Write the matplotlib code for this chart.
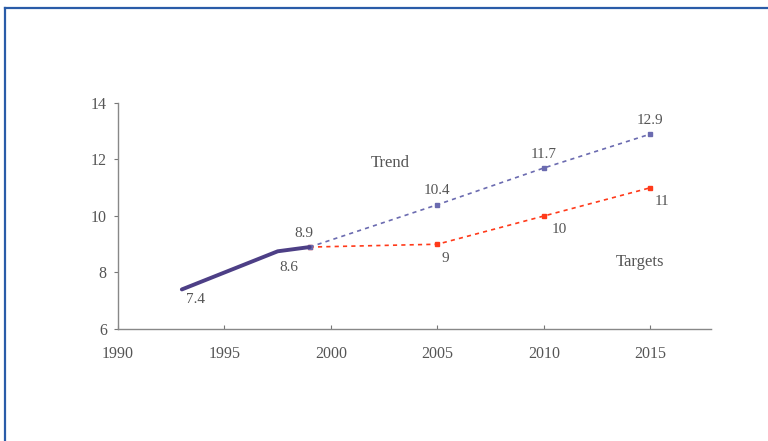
import matplotlib
matplotlib.use("Agg")
import matplotlib.pyplot as plt
from matplotlib.lines import Line2D

plt.rcParams["font.family"] = ["Liberation Serif", "DejaVu Serif"]

hist_years = [1993, 1997.5, 1999]
hist_vals = [7.4, 8.75, 8.9]
hist_labels = ["7.4", "8.6", "8.9"]

trend_years = [1999, 2005, 2010, 2015]
trend_vals = [8.9, 10.4, 11.7, 12.9]
trend_labels = ["", "10.4", "11.7", "12.9"]

target_years = [1999, 2005, 2010, 2015]
target_vals = [8.9, 9.0, 10.0, 11.0]
target_labels = ["", "9", "10", "11"]

xticks = [1990, 1995, 2000, 2005, 2010, 2015]
yticks = [6, 8, 10, 12, 14]

txt = "#555555"

fig = plt.figure(figsize=(7.68, 4.41), dpi=100)
ax = fig.add_axes([0.1536, 0.254, 0.7737, 0.5125])

ax.plot(target_years, target_vals, color="#ff3a1a", lw=1.2, ls=(0, (2.5, 2.5)),
        marker="s", ms=2.2, zorder=2)
ax.plot(trend_years, trend_vals, color="#6b6bb0", lw=1.2, ls=(0, (2.5, 2.5)),
        marker="s", ms=2.2, zorder=2)
ax.plot(hist_years, hist_vals, color="#4d3f86", lw=2.8, solid_capstyle="round", zorder=3)

# value labels (offsets in points)
for x, y, s, off in zip(hist_years, hist_vals, hist_labels, [(10, -7), (8, -12), (-4, 10)]):
    ax.annotate(s, (x, y), xytext=off, textcoords="offset points",
                ha="center", va="center", color=txt, fontsize=11)
for x, y, s in zip(trend_years, trend_vals, trend_labels):
    if s:
        ax.annotate(s, (x, y), xytext=(0, 10), textcoords="offset points",
                    ha="center", va="center", color=txt, fontsize=11)
for x, y, s, off in zip(target_years, target_vals, target_labels,
                        [(0, 0), (6, -10), (11, -10), (8, -10)]):
    if s:
        ax.annotate(s, (x, y), xytext=off, textcoords="offset points",
                    ha="center", va="center", color=txt, fontsize=11)

ax.text(2002.8, 11.88, "Trend", color=txt, fontsize=12, ha="center", va="center")
ax.text(2014.5, 8.37, "Targets", color=txt, fontsize=12, ha="center", va="center")

ax.set_xlim(1990, 2017.9)
ax.set_ylim(6, 14)
ax.set_xticks(xticks)
ax.set_yticks(yticks)
ax.tick_params(colors="#777777", labelcolor=txt, labelsize=11.5, length=3, width=0.8)
ax.tick_params(axis="x", direction="in", pad=12)
ax.tick_params(axis="y", pad=5)
for side in ["top", "right"]:
    ax.spines[side].set_visible(False)
for side in ["left", "bottom"]:
    ax.spines[side].set_color("#888888")
    ax.spines[side].set_linestyle((0, (1, 1)))
    ax.spines[side].set_linewidth(1.0)

# page frame (left and top edges)
fig.add_artist(Line2D([0.0065, 0.0065], [0, 0.982], transform=fig.transFigure,
                      color="#2a5ca8", lw=1.6))
fig.add_artist(Line2D([0.0065, 1.0], [0.982, 0.982], transform=fig.transFigure,
                      color="#2a5ca8", lw=1.6))

fig.savefig("out.png", dpi=100)
